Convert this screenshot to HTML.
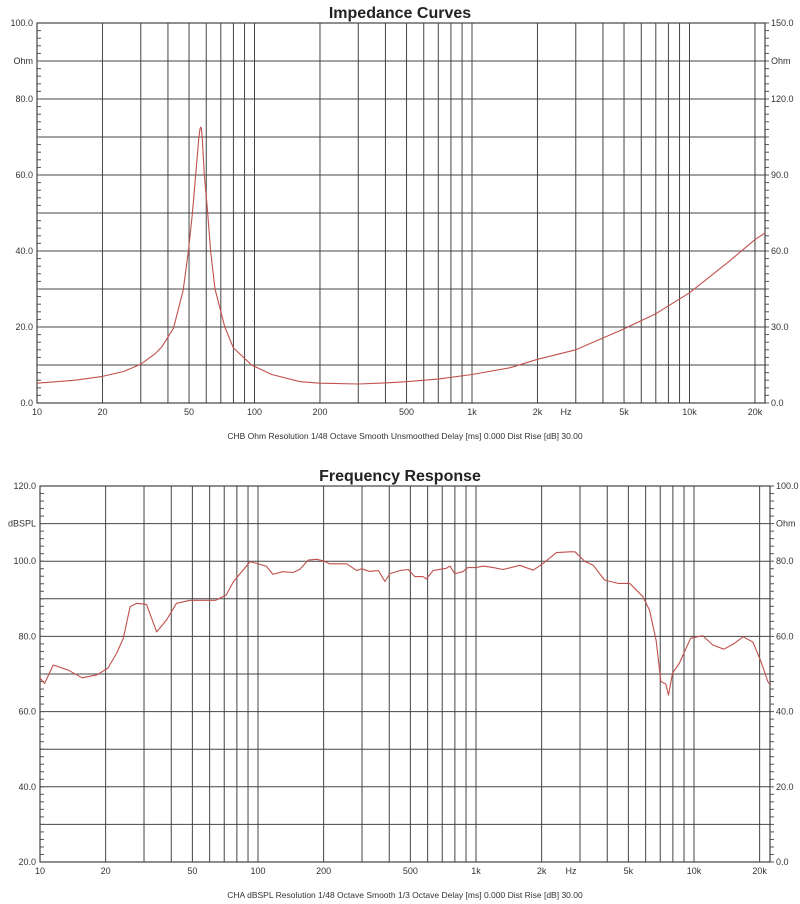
<!DOCTYPE html>
<html><head><meta charset="utf-8"><style>
body{margin:0;background:#fff;width:800px;height:904px;overflow:hidden}
svg{display:block;font-family:"Liberation Sans",sans-serif}
</style></head><body>
<svg id="svg" width="800" height="904" viewBox="0 0 800 904"></svg>
<script>
// Impedance chart data
const impFreq=[10,15,20,25,30,35,37.5,42.4,47,49.6,51.8,54,55.5,56.2,56.6,57.0,57.5,58.8,60.9,62.8,65.8,73,80,97,120,162,200,300,400,500,700,1000,1500,2000,3000,5000,7000,10000,15000,20000,24000];
const impOhm=[5.2,6,7,8.3,10.2,13,14.8,19.7,29.7,39.8,49.9,62,70,72.3,72.6,72.2,70,60,50,40,30,20,14.5,10,7.5,5.6,5.2,5.0,5.3,5.6,6.3,7.5,9.3,11.5,14,19.5,23.5,29,37,43,46];
// Frequency response data
const frFreq=[10,10.5,11.5,13.5,15.6,18.3,20.5,22.5,24.1,25.9,27.8,30.8,34.3,38.1,42.3,48.8,64,71.5,77,92,109,117,130,145,156,170,186,199,213,255,284,298,325,357,382,403,447,489,524,571,592,635,730,759,799,870,917,1000,1080,1200,1330,1590,1830,2020,2340,2700,2845,3164,3452,3885,4480,5070,5820,6250,6700,7050,7430,7640,7970,8550,9650,10960,12200,13700,15200,16800,18600,20300,21800,23500];
const frDb=[68.9,67.5,72.4,71,69,69.8,71.6,75.6,79.5,87.9,88.8,88.5,81.2,84.4,88.8,89.6,89.6,91,94.5,99.9,98.7,96.5,97.2,97,97.9,100.3,100.5,100.1,99.3,99.3,97.5,98,97.3,97.5,94.6,96.7,97.5,97.8,95.9,95.9,95.3,97.5,98.1,98.7,96.7,97.2,98.3,98.3,98.7,98.3,97.8,98.9,97.6,99.3,102.3,102.5,102.5,99.9,98.9,95,94.1,94.1,90.6,87,79,68,67.3,64.4,70.2,72.8,79.5,80.2,77.7,76.6,78,79.9,78.5,73.3,68,65];
const xTickVals=[10,20,50,100,200,500,1000,2000,5000,10000,20000];
const xTickLabels=["10","20","50","100","200","500","1k","2k","5k","10k","20k"];
const impLeftLabels=["100.0","Ohm","80.0","60.0","40.0","20.0","0.0"];
const impLeftVals=[100,90,80,60,40,20,0];
const impRightLabels=["150.0","Ohm","120.0","90.0","60.0","30.0","0.0"];
const frLeftLabels=["120.0","dBSPL","100.0","80.0","60.0","40.0","20.0"];
const frLeftVals=[120,110,100,80,60,40,20];
const frRightLabels=["100.0","Ohm","80.0","60.0","40.0","20.0","0.0"];

const NS="http://www.w3.org/2000/svg";
const svg=document.getElementById('svg');
function el(t,a,p){const e=document.createElementNS(NS,t);for(const k in a)e.setAttribute(k,a[k]);(p||svg).appendChild(e);return e;}
const defs=el('defs',{});

function chart(o){
  const g=el('g',{});
  
  
  const X=f=>o.L+(Math.log10(f)-1)*o.dec;
  const Y=v=>o.B-(v-o.ymin)/(o.ymax-o.ymin)*(o.B-o.T);
  const cp=el('clipPath',{id:o.name+'-clip'},defs);
  el('rect',{x:o.L,y:o.T,width:o.R-o.L,height:o.B-o.T},cp);
  const gridF=[];
  for(let d=10;d<=10000;d*=10)for(let m=1;m<=9;m++){const f=d*m;if(f>10&&f<=20000)gridF.push(f);}
  gridF.forEach(f=>{const l=el('line',{x1:X(f),x2:X(f),y1:o.T,y2:o.B,stroke:'#444','stroke-width':1},g);
    
    });
  for(let v=o.ymin+10;v<o.ymax;v+=10){const l=el('line',{x1:o.L,x2:o.R,y1:Y(v),y2:Y(v),stroke:'#444','stroke-width':1},g);
    
    }
  for(let v=o.ymin;v<=o.ymax;v+=2){el('line',{x1:o.L,x2:o.L+4,y1:Y(v),y2:Y(v),stroke:'#555'},g);el('line',{x1:o.R,x2:o.R+4,y1:Y(v),y2:Y(v),stroke:'#555'},g);}
  const fr=el('rect',{x:o.L,y:o.T,width:o.R-o.L,height:o.B-o.T,fill:'none',stroke:'#444','stroke-width':1.2},g);
  
  
  const pts=o.fx.map((f,i)=>X(f).toFixed(1)+','+Y(o.vy[i]).toFixed(1)).join(' ');
  const c=el('polyline',{points:pts,fill:'none',stroke:'#c0504d','stroke-width':1.1,'stroke-linejoin':'round','clip-path':'url(#'+o.name+'-clip)'},g);
  
  
  xTickVals.forEach((f,i)=>{const t=el('text',{x:X(f),y:o.B+12,'font-size':9,'text-anchor':'middle',fill:'#333'},g);t.textContent=xTickLabels[i];
    
    });
  const hz=el('text',{x:o.hzX,y:o.B+12,'font-size':9,'text-anchor':'middle',fill:'#333'},g);hz.textContent='Hz';
  
  
  o.lv.forEach((v,i)=>{const t=el('text',{x:o.L-4,y:Y(v)+3,'font-size':9,'text-anchor':'end',fill:'#333'},g);t.textContent=o.ll[i];
    
    
    const r=el('text',{x:o.R+6,y:Y(v)+3,'font-size':9,'text-anchor':'start',fill:'#333'},g);r.textContent=o.rl[i];
    
    });
  const ti=el('text',{x:400,y:o.T-5,'font-size':16,'text-anchor':'middle',fill:'#222','font-weight':'bold'},g);ti.textContent=o.title;
  
  
  const cap=el('text',{x:o.capX,y:o.B+36,'font-size':8.5,'text-anchor':'middle',fill:'#333'},g);cap.textContent=o.cap;
  
  
}
chart({name:'impedance-chart',curve:'impedance-curve',L:37,R:765,T:23,B:403,dec:217.5,ymin:0,ymax:100,fx:impFreq,vy:impOhm,lv:impLeftVals,ll:impLeftLabels,rl:impRightLabels,hzX:566,title:'Impedance Curves',capX:405,cap:'CHB Ohm Resolution 1/48 Octave Smooth Unsmoothed Delay [ms] 0.000 Dist Rise [dB] 30.00'});
chart({name:'frequency-response-chart',curve:'frequency-response-curve',L:40,R:770,T:486,B:862,dec:218,ymin:20,ymax:120,fx:frFreq,vy:frDb,lv:frLeftVals,ll:frLeftLabels,rl:frRightLabels,hzX:571,title:'Frequency Response',capX:405,cap:'CHA dBSPL Resolution 1/48 Octave Smooth 1/3 Octave Delay [ms] 0.000 Dist Rise [dB] 30.00'});
</script>
</body></html>
